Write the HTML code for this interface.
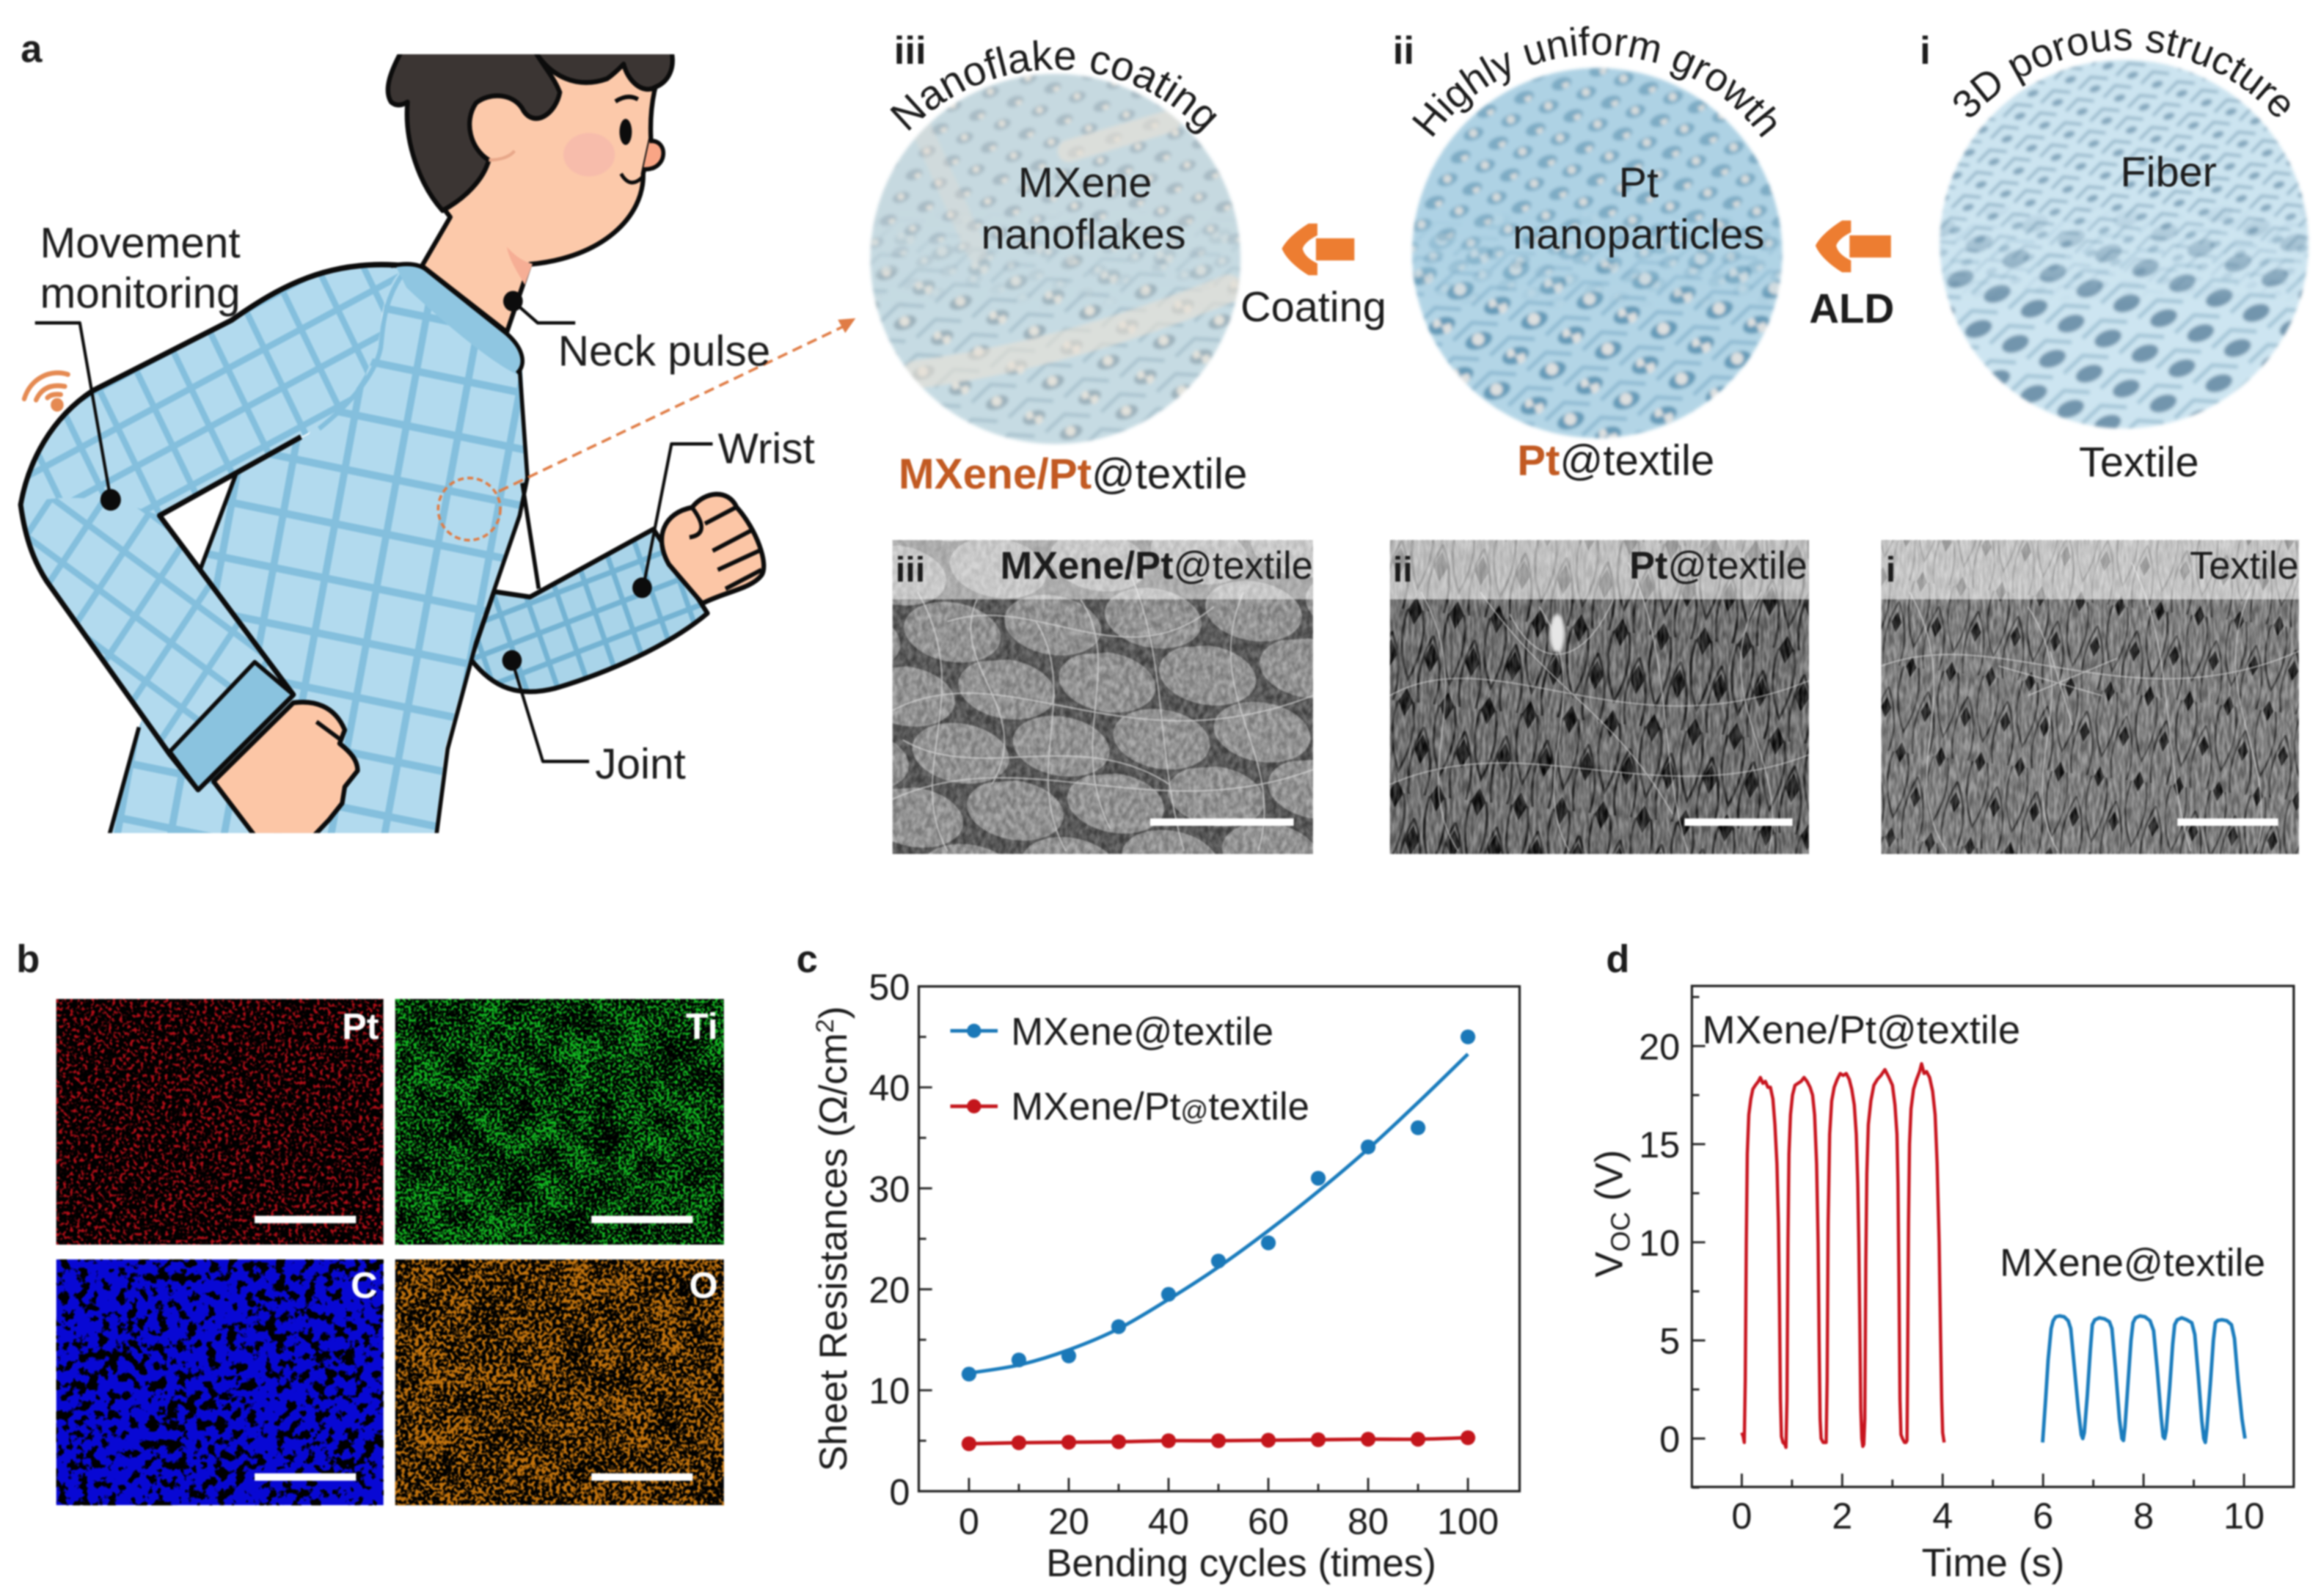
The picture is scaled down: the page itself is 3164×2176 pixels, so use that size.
<!DOCTYPE html>
<html lang="en">
<head>
<meta charset="utf-8">
<title>Textile sensor figure</title>
<style>
html,body{margin:0;padding:0;background:#fff;width:3164px;height:2176px;overflow:hidden}
svg{display:block;filter:blur(1px)}
text{font-family:"Liberation Sans",Arial,sans-serif;fill:#1c1c1c}
.b{font-weight:700}
</style>
</head>
<body>
<svg id="fig" xmlns="http://www.w3.org/2000/svg" width="3164" height="2176" viewBox="0 0 1568 1078.4">
<defs>
  <clipPath id="person-clip"><rect x="0" y="100" width="1568" height="1435"/></clipPath>
  <pattern id="grid-torso" width="102" height="102" patternUnits="userSpaceOnUse" patternTransform="rotate(11)"><rect width="102" height="102" fill="#b2daee"/><path d="M0,7H102M7,0V102" stroke="#84bfdd" stroke-width="14"/></pattern>
  <pattern id="grid-upper" width="80" height="80" patternUnits="userSpaceOnUse" patternTransform="rotate(-27)"><rect width="80" height="80" fill="#b2daee"/><path d="M0,6H80M6,0V80" stroke="#84bfdd" stroke-width="12"/></pattern>
  <pattern id="grid-lower" width="86" height="86" patternUnits="userSpaceOnUse" patternTransform="rotate(35)"><rect width="86" height="86" fill="#b2daee"/><path d="M0,6H86M6,0V86" stroke="#84bfdd" stroke-width="12"/></pattern>
  <pattern id="grid-fore" width="58" height="58" patternUnits="userSpaceOnUse" patternTransform="rotate(-20)"><rect width="58" height="58" fill="#a9d4e9"/><path d="M0,5H58M5,0V58" stroke="#74b3d3" stroke-width="10"/></pattern>

  <pattern id="knit-iii-lo" width="40" height="36" patternUnits="userSpaceOnUse" patternTransform="rotate(-20)"><rect width="40" height="36" fill="#c6dbe3"/><path d="M4,12L20,5L36,12M-16,30L0,23L16,30M24,30L40,23L56,30" fill="none" stroke="#a9c2ce" stroke-width="2.4"/><g fill="#9cb1bb"><ellipse cx="20" cy="18" rx="8" ry="4.5"/><ellipse cx="0" cy="0" rx="8" ry="4.5"/><ellipse cx="40" cy="0" rx="8" ry="4.5"/><ellipse cx="0" cy="36" rx="8" ry="4.5"/><ellipse cx="40" cy="36" rx="8" ry="4.5"/></g><g fill="#e2e2dc"><circle cx="20" cy="17" r="3.4"/><circle cx="2" cy="2" r="3.4"/><circle cx="38" cy="34" r="3"/></g></pattern>
  <pattern id="knit-iii-up" width="27" height="23" patternUnits="userSpaceOnUse" patternTransform="rotate(-20)"><rect width="27" height="23" fill="#c6d9e0"/><g fill="#a8bbc5"><ellipse cx="13.5" cy="11.5" rx="6" ry="3.5"/><ellipse cx="0" cy="0" rx="6" ry="3.5"/><ellipse cx="27" cy="0" rx="6" ry="3.5"/><ellipse cx="0" cy="23" rx="6" ry="3.5"/><ellipse cx="27" cy="23" rx="6" ry="3.5"/></g><g fill="#e0e0da"><circle cx="13.5" cy="11" r="2.3"/><circle cx="2" cy="1" r="2.3"/></g></pattern>
  <pattern id="knit-ii-lo" width="40" height="36" patternUnits="userSpaceOnUse" patternTransform="rotate(-20)"><rect width="40" height="36" fill="#b3d5e6"/><path d="M4,12L20,5L36,12M-16,30L0,23L16,30M24,30L40,23L56,30" fill="none" stroke="#8fbad2" stroke-width="2.6"/><g fill="#659ab7"><ellipse cx="20" cy="18" rx="9.5" ry="5.5"/><ellipse cx="0" cy="0" rx="9.5" ry="5.5"/><ellipse cx="40" cy="0" rx="9.5" ry="5.5"/><ellipse cx="0" cy="36" rx="9.5" ry="5.5"/><ellipse cx="40" cy="36" rx="9.5" ry="5.5"/></g><g fill="#dde0e0"><circle cx="20" cy="17" r="4.2"/><circle cx="2" cy="2" r="4.2"/><circle cx="38" cy="34" r="3.4"/></g></pattern>
  <pattern id="knit-ii-up" width="27" height="23" patternUnits="userSpaceOnUse" patternTransform="rotate(-20)"><rect width="27" height="23" fill="#aed2e4"/><g fill="#7dabc4"><ellipse cx="13.5" cy="11.5" rx="7" ry="4"/><ellipse cx="0" cy="0" rx="7" ry="4"/><ellipse cx="27" cy="0" rx="7" ry="4"/><ellipse cx="0" cy="23" rx="7" ry="4"/><ellipse cx="27" cy="23" rx="7" ry="4"/></g><g fill="#d5dbdc"><circle cx="13.5" cy="11" r="2.8"/><circle cx="2" cy="1" r="2.8"/></g></pattern>
  <pattern id="knit-i-lo" width="40" height="36" patternUnits="userSpaceOnUse" patternTransform="rotate(-20)"><rect width="40" height="36" fill="#cde5f1"/><path d="M4,12L20,5L36,12M-16,30L0,23L16,30M24,30L40,23L56,30" fill="none" stroke="#a3c4d6" stroke-width="2.6"/><g fill="#7295ad"><ellipse cx="20" cy="18" rx="9.5" ry="5.5"/><ellipse cx="0" cy="0" rx="9.5" ry="5.5"/><ellipse cx="40" cy="0" rx="9.5" ry="5.5"/><ellipse cx="0" cy="36" rx="9.5" ry="5.5"/><ellipse cx="40" cy="36" rx="9.5" ry="5.5"/></g></pattern>
  <pattern id="knit-i-up" width="27" height="23" patternUnits="userSpaceOnUse" patternTransform="rotate(-20)"><rect width="27" height="23" fill="#cce4f0"/><path d="M3,8L13.5,3L24,8M-10,19L0,14L10,19M17,19L27,14L37,19" fill="none" stroke="#90b2c6" stroke-width="1.8"/><g fill="#84a7bd"><ellipse cx="13.5" cy="11.5" rx="4" ry="2.2"/><ellipse cx="0" cy="0" rx="4" ry="2.2"/><ellipse cx="27" cy="0" rx="4" ry="2.2"/><ellipse cx="0" cy="23" rx="4" ry="2.2"/><ellipse cx="27" cy="23" rx="4" ry="2.2"/></g></pattern>
  <linearGradient id="fade" x1="0" y1="0" x2="0" y2="1"><stop offset="0.6" stop-color="#fff"/><stop offset="1" stop-color="#000"/></linearGradient>
  <mask id="fade-mask" maskUnits="objectBoundingBox" maskContentUnits="objectBoundingBox" x="0" y="0" width="1" height="1"><rect width="1" height="1" fill="url(#fade)"/></mask>
  <filter id="soft" x="-5%" y="-5%" width="110%" height="110%"><feGaussianBlur stdDeviation="1.1"/></filter>
  <clipPath id="clip-circle-iii"><circle cx="713" cy="175" r="125"/></clipPath>
  <clipPath id="clip-circle-ii"><circle cx="1079" cy="171" r="125"/></clipPath>
  <clipPath id="clip-circle-i"><circle cx="1435" cy="165" r="124.5"/></clipPath>

  <pattern id="sem-iii" width="68" height="82" patternUnits="userSpaceOnUse" patternTransform="rotate(-4)"><rect width="68" height="82" fill="#4e4e4e"/><g fill="#979797"><ellipse cx="34" cy="20" rx="33" ry="20" transform="rotate(14 34 20)"/><ellipse cx="0" cy="61" rx="33" ry="20" transform="rotate(14 0 61)"/><ellipse cx="68" cy="61" rx="33" ry="20" transform="rotate(14 68 61)"/></g></pattern>
  <pattern id="sem-ii" width="28" height="62" patternUnits="userSpaceOnUse" patternTransform="rotate(6)"><rect width="28" height="62" fill="#6e6e6e"/><g fill="none" stroke="#1e1e1e" stroke-width="1.6"><path d="M14,-15Q28,16 14,47Q0,16 14,-15Z"/><path d="M0,16Q14,47 0,78M28,16Q14,47 28,78"/></g><g fill="#060606"><path d="M14,-9L19,0L14,10L9,0Z"/><path d="M14,53L19,62L14,71L9,62Z"/><path d="M0,21L5,31L0,41L-5,31Z"/><path d="M28,21L33,31L28,41L23,31Z"/></g></pattern>
  <pattern id="sem-i" width="27" height="58" patternUnits="userSpaceOnUse" patternTransform="rotate(7)"><rect width="27" height="58" fill="#808080"/><g fill="none" stroke="#343434" stroke-width="1.2"><path d="M13.5,-14Q27,15 13.5,44Q0,15 13.5,-14Z"/><path d="M0,15Q13.5,44 0,73M27,15Q13.5,44 27,73"/></g><g fill="#0c0c0c"><path d="M13.5,-7L17,0L13.5,7L10,0Z"/><path d="M13.5,51L17,58L13.5,65L10,58Z"/><path d="M0,22L3.5,29L0,36L-3.5,29Z"/><path d="M27,22L30.5,29L27,36L23.5,29Z"/></g></pattern>
  <filter id="grain-v" x="0" y="0" width="100%" height="100%" color-interpolation-filters="sRGB"><feTurbulence type="fractalNoise" baseFrequency="0.5 0.11" numOctaves="2" seed="4"/><feColorMatrix values="2.2 0 0 0 -0.6  2.2 0 0 0 -0.6  2.2 0 0 0 -0.6  0 0 0 0 0.24"/></filter>
  <filter id="grain-d" x="0" y="0" width="100%" height="100%" color-interpolation-filters="sRGB"><feTurbulence type="fractalNoise" baseFrequency="0.3 0.2" numOctaves="2" seed="9"/><feColorMatrix values="2 0 0 0 -0.5  2 0 0 0 -0.5  2 0 0 0 -0.5  0 0 0 0 0.2"/></filter>

  <filter id="noise-red" x="0" y="0" width="100%" height="100%" color-interpolation-filters="sRGB"><feTurbulence type="fractalNoise" baseFrequency="0.42" numOctaves="2" seed="3"/><feColorMatrix values="0 0 0 0 0.7  0 0 0 0 0.05  0 0 0 0 0.09  8 0 0 0 -4.3"/></filter>
  <filter id="noise-green" x="0" y="0" width="100%" height="100%" color-interpolation-filters="sRGB">
    <feTurbulence type="fractalNoise" baseFrequency="0.55" numOctaves="2" seed="8" result="hi"/>
    <feColorMatrix in="hi" values="1 0 0 0 0 1 0 0 0 0 1 0 0 0 0 0 0 0 0 1" result="hiO"/>
    <feTurbulence type="fractalNoise" baseFrequency="0.05" numOctaves="2" seed="21" result="lo"/>
    <feColorMatrix in="lo" values="1 0 0 0 0 1 0 0 0 0 1 0 0 0 0 0 0 0 0 1" result="loO"/>
    <feComposite in="hiO" in2="loO" operator="arithmetic" k1="0" k2="1" k3="0.32" k4="-0.16" result="mix"/>
    <feColorMatrix in="mix" values="0 0 0 0 0.07  0 0 0 0 0.72  0 0 0 0 0.13  8 0 0 0 -3.95"/>
  </filter>
  <filter id="noise-blue" x="0" y="0" width="100%" height="100%" color-interpolation-filters="sRGB">
    <feTurbulence type="fractalNoise" baseFrequency="0.15" numOctaves="3" seed="5" result="hi"/>
    <feColorMatrix in="hi" values="1 0 0 0 0 1 0 0 0 0 1 0 0 0 0 0 0 0 0 1" result="hiO"/>
    <feTurbulence type="fractalNoise" baseFrequency="0.03" numOctaves="1" seed="14" result="lo"/>
    <feColorMatrix in="lo" values="1 0 0 0 0 1 0 0 0 0 1 0 0 0 0 0 0 0 0 1" result="loO"/>
    <feComposite in="hiO" in2="loO" operator="arithmetic" k1="0" k2="1" k3="0.25" k4="-0.125" result="mix"/>
    <feColorMatrix in="mix" values="0 0 0 0 0  0 0 0 0 0  0 0 0 0 0  -12 0 0 0 5.75"/>
  </filter>
  <filter id="noise-orange" x="0" y="0" width="100%" height="100%" color-interpolation-filters="sRGB">
    <feTurbulence type="fractalNoise" baseFrequency="0.42" numOctaves="2" seed="12" result="hi"/>
    <feColorMatrix in="hi" values="1 0 0 0 0 1 0 0 0 0 1 0 0 0 0 0 0 0 0 1" result="hiO"/>
    <feTurbulence type="fractalNoise" baseFrequency="0.05" numOctaves="2" seed="17" result="lo"/>
    <feColorMatrix in="lo" values="1 0 0 0 0 1 0 0 0 0 1 0 0 0 0 0 0 0 0 1" result="loO"/>
    <feComposite in="hiO" in2="loO" operator="arithmetic" k1="0" k2="1" k3="0.28" k4="-0.14" result="mix"/>
    <feColorMatrix in="mix" values="0 0 0 0 0.76  0 0 0 0 0.45  0 0 0 0 0.05  7 0 0 0 -3.25"/>
  </filter>
  <path id="arc-iii" d="M575,185A138,138 0 0 1 851,185"/>
  <path id="arc-ii" d="M941,175A138,138 0 0 1 1217,175"/>
  <path id="arc-i" d="M1297,172A138,138 0 0 1 1573,172"/>
</defs>

<rect width="1568" height="1078.4" fill="#fff"/>

<!-- PANEL A -->
<text class="b" x="14" y="42" font-size="26">a</text>
<g transform="scale(0.3476,0.3667)" clip-path="url(#person-clip)" stroke-linejoin="round">
  <path d="M1030,1100L1270,975L1375,1130C1300,1190 1180,1240 1080,1268C1010,1285 960,1270 915,1215L960,1090Z" fill="url(#grid-fore)" stroke="#0c0c0c" stroke-width="9"/>
  <path d="M1300,1040C1270,990 1290,945 1345,935C1370,905 1415,900 1432,935C1470,975 1495,1040 1480,1060C1460,1085 1410,1090 1365,1112Z" fill="#fcc6a6" stroke="#0c0c0c" stroke-width="9"/>
  <path d="M1345,935C1365,960 1375,985 1340,990M1370,965L1430,935M1385,1015L1465,975M1395,1050L1475,1015M1410,1085L1480,1050" fill="none" stroke="#0c0c0c" stroke-width="8"/>
  <path d="M760,490L820,490L985,612L1015,680L1025,880L1010,940L920,1190L865,1380L845,1540L210,1540L270,1340L385,1060L460,870L600,800L740,600Z" fill="url(#grid-torso)"/>
  <path d="M1010,680L1025,880L1010,950L925,1185L870,1380L848,1540M270,1340L212,1540M460,870L385,1060M1015,890L1047,1085" fill="none" stroke="#0c0c0c" stroke-width="8"/>
  <path d="M875,400C800,310 790,220 860,130L1000,95L1300,95C1275,140 1262,190 1265,255L1250,320C1252,400 1170,475 1030,487L985,612L820,490Z" fill="#fcc9aa" stroke="#0c0c0c" stroke-width="9"/>
  <path d="M985,455C1000,470 1015,482 1035,486L1020,525C1005,500 990,480 985,455Z" fill="#f6ae95"/>
  <path d="M780,95C760,130 745,165 760,188C772,198 785,192 792,188C785,260 815,340 860,388C905,365 940,330 950,295C915,275 900,225 925,190C950,170 1000,170 1018,205C1040,235 1080,210 1088,170C1075,140 1055,120 1040,95Z" fill="#3b3533" stroke="#0c0c0c" stroke-width="9"/>
  <path d="M1040,95C1070,140 1120,165 1180,145C1195,135 1205,125 1212,118C1220,150 1250,175 1275,160C1300,150 1312,125 1305,95Z" fill="#3b3533" stroke="#0c0c0c" stroke-width="9"/>
  <path d="M950,295C970,295 990,290 1000,278" fill="none" stroke="#e8a88a" stroke-width="6"/>
  <ellipse cx="1145" cy="285" rx="50" ry="40" fill="#f7bcab" filter="url(#soft)"/>
  <ellipse cx="1216" cy="243" rx="12" ry="24" fill="#0c0c0c"/>
  <path d="M1196,187Q1220,172 1240,183" fill="none" stroke="#0c0c0c" stroke-width="8"/>
  <path d="M1262,260C1300,255 1300,315 1250,312" fill="#f9a585" stroke="#0c0c0c" stroke-width="8"/>
  <path d="M1207,320Q1225,350 1250,325" fill="none" stroke="#0c0c0c" stroke-width="7"/>
  <path d="M770,490C640,480 540,530 450,590L180,720C100,770 55,850 40,930L310,950L585,805C660,770 730,690 740,600C745,550 760,510 790,490Z" fill="url(#grid-upper)"/>
  <path d="M40,930C130,905 230,920 310,950L570,1280L385,1455L330,1390L90,1070C70,1040 50,1000 40,930Z" fill="url(#grid-lower)"/>
  <path d="M790,495C745,550 745,600 740,640C730,690 680,745 620,790" fill="none" stroke="#84bfdd" stroke-width="9"/>
  <path d="M790,490C640,475 540,530 450,590L180,720C100,770 55,850 40,930C50,1000 70,1040 90,1070L330,1390L385,1455L570,1280L310,950L585,805" fill="none" stroke="#0c0c0c" stroke-width="10"/>
  <path d="M770,492C800,482 820,490 830,498L985,612C1015,640 1025,670 1005,690C960,670 880,610 790,530Z" fill="#8fc6e1"/>
  <path d="M760,490C800,482 820,490 830,498L985,615C1015,640 1025,670 1005,688" fill="none" stroke="#0c0c0c" stroke-width="8"/>
  <path d="M330,1385L495,1220L570,1280L385,1455Z" fill="#8ac3df" stroke="#0c0c0c" stroke-width="8"/>
  <path d="M415,1440L570,1295C610,1290 650,1300 670,1345L660,1370C680,1385 695,1400 695,1420L670,1450L665,1480L640,1510L610,1540L495,1540Z" fill="#fcc6a6" stroke="#0c0c0c" stroke-width="9"/>
  <path d="M615,1330L665,1365" fill="none" stroke="#0c0c0c" stroke-width="8"/>
  <g fill="none" stroke="#e58a52" stroke-width="9" stroke-linecap="round">
    <path d="M47,735C60,695 100,680 132,690"/><path d="M70,737Q85,705 126,712"/><path d="M92,733Q100,725 118,727"/>
    <circle cx="111" cy="746" r="8" fill="#e58a52"/>
  </g>
  <g fill="none" stroke="#0c0c0c" stroke-width="6">
    <path d="M68,595H155L215,920"/>
    <path d="M997,555L1045,595H1118"/>
    <path d="M1385,818H1305L1250,1083"/>
    <path d="M995,1217L1055,1403H1145"/>
  </g>
  <g fill="#0c0c0c">
    <ellipse cx="215" cy="921" rx="20" ry="20"/>
    <ellipse cx="997" cy="555" rx="19" ry="19"/>
    <ellipse cx="1248" cy="1083" rx="19" ry="19"/>
    <ellipse cx="995" cy="1217" rx="19" ry="19"/>
  </g>
</g>
<circle cx="317" cy="344" r="21" fill="none" stroke="#e07c45" stroke-width="1.8" stroke-dasharray="4 2.5"/>
<path d="M337,332L571,220" fill="none" stroke="#e07c45" stroke-width="1.8" stroke-dasharray="7 4"/>
<path d="M578,215L566,216L571,225Z" fill="#e07c45"/>
<text font-size="29"><tspan x="27" y="174">Movement</tspan><tspan x="27" y="208">monitoring</tspan></text>
<text x="377" y="247" font-size="29">Neck pulse</text>
<text x="485" y="313" font-size="29">Wrist</text>
<text x="402" y="526" font-size="29">Joint</text>

<!-- Circles -->
<g filter="url(#soft)">
  <circle cx="713" cy="175" r="125" fill="url(#knit-iii-lo)"/>
  <g clip-path="url(#clip-circle-iii)">
    <rect x="580" y="40" width="270" height="170" fill="url(#knit-iii-up)" mask="url(#fade-mask)"/>
    <g fill="none" stroke="#e9e2d6" stroke-linecap="round" opacity="0.6">
      <path d="M619,253Q720,240 830,195" stroke-width="19"/>
      <path d="M722,102L790,82" stroke-width="15"/>
      <path d="M615,70L660,170" stroke-width="14" opacity="0.5"/>
    </g>
  </g>
</g>
<g filter="url(#soft)">
  <circle cx="1079" cy="171" r="125" fill="url(#knit-ii-lo)"/>
  <g clip-path="url(#clip-circle-ii)"><rect x="950" y="40" width="260" height="170" fill="url(#knit-ii-up)" mask="url(#fade-mask)"/></g>
</g>
<g filter="url(#soft)">
  <circle cx="1435" cy="165" r="124.5" fill="url(#knit-i-lo)"/>
  <g clip-path="url(#clip-circle-i)"><rect x="1305" y="35" width="260" height="170" fill="url(#knit-i-up)" mask="url(#fade-mask)"/></g>
</g>
<text class="b" x="604" y="43" font-size="26">iii</text>
<text class="b" x="941" y="43" font-size="26">ii</text>
<text class="b" x="1297" y="43" font-size="26">i</text>
<text font-size="28" text-anchor="middle"><textPath href="#arc-iii" startOffset="50%">Nanoflake coating</textPath></text>
<text font-size="27" text-anchor="middle"><textPath href="#arc-ii" startOffset="50%">Highly uniform growth</textPath></text>
<text font-size="27" text-anchor="middle"><textPath href="#arc-i" startOffset="50%">3D porous structure</textPath></text>
<text font-size="28.6" text-anchor="middle"><tspan x="733" y="133">MXene</tspan><tspan x="732" y="168">nanoflakes</tspan></text>
<text font-size="28.6" text-anchor="middle"><tspan x="1107" y="133">Pt</tspan><tspan x="1107" y="168">nanoparticles</tspan></text>
<text x="1465" y="126" font-size="28.6" text-anchor="middle">Fiber</text>
<g fill="#ed7d31"><path d="M889,161H915V176H889Z"/><path d="M890,151L884,151C876,156 869,162 866,168C869,175 876,181 884,186L890,186L890,178C884,175 881,172 880,168C881,165 884,162 890,159Z"/></g>
<g fill="#ed7d31" transform="translate(360.5,-2)"><path d="M889,161H917V176H889Z"/><path d="M890,151L884,151C876,156 869,162 866,168C869,175 876,181 884,186L890,186L890,178C884,175 881,172 880,168C881,165 884,162 890,159Z"/></g>
<text x="838" y="217" font-size="28.6">Coating</text>
<text class="b" x="1251" y="218" font-size="28" text-anchor="middle">ALD</text>
<text x="607" y="330" font-size="29"><tspan class="b" style="fill:#c25a22">MXene/Pt</tspan><tspan>@textile</tspan></text>
<text x="1025" y="321" font-size="28.8"><tspan class="b" style="fill:#c25a22">Pt</tspan><tspan>@textile</tspan></text>
<text x="1445" y="322" font-size="28.6" text-anchor="middle">Textile</text>

<!-- SEM images -->
<g>
  <rect x="603" y="365" width="284" height="212" fill="url(#sem-iii)"/>
  <rect x="603" y="365" width="284" height="212" filter="url(#grain-d)"/>
  <g fill="none" stroke="#dcdcdc" stroke-width="0.9" opacity="0.7"><path d="M620,400C660,470 610,520 640,575M700,420C730,470 690,520 720,575M760,380C790,440 780,510 800,575M840,400C810,470 870,510 850,575M603,480C680,440 760,520 887,470M603,540C690,500 780,560 887,520"/><path d="M660,405C640,450 700,480 670,530M730,405C760,450 720,500 750,560M640,420C700,400 760,460 820,410M610,500C660,530 730,490 790,530"/></g>
  <rect x="603" y="365" width="284" height="40" fill="#fff" opacity="0.5"/>
  <rect x="777" y="553" width="97" height="5" fill="#fff"/>
</g>
<g>
  <rect x="939" y="365" width="283" height="212" fill="url(#sem-ii)"/>
  <rect x="939" y="365" width="283" height="212" filter="url(#grain-v)"/>
  <g fill="none" stroke="#d8d8d8" stroke-width="0.8" opacity="0.65"><path d="M960,400C1000,470 950,520 985,575M1040,410C1080,470 1030,520 1060,575M1100,380C1130,440 1120,510 1140,575M1190,400C1150,470 1210,510 1195,575M939,470C1010,430 1100,510 1222,460M939,530C1030,490 1120,550 1222,510"/><path d="M1020,415C1040,455 1070,450 1090,405"/><path d="M1000,400C1050,470 1090,480 1130,550"/></g>
  <ellipse cx="1052" cy="428" rx="5" ry="13" fill="#e6e6e6" filter="url(#soft)"/>
  <rect x="934" y="365" width="288" height="40" fill="#fff" opacity="0.55"/>
  <rect x="1138" y="553" width="73" height="5" fill="#fff"/>
</g>
<g>
  <rect x="1271" y="365" width="282" height="212" fill="url(#sem-i)"/>
  <rect x="1271" y="365" width="282" height="212" filter="url(#grain-v)"/>
  <g fill="none" stroke="#dedede" stroke-width="0.8" opacity="0.65"><path d="M1290,400C1330,470 1280,520 1315,575M1370,410C1410,470 1360,520 1390,575M1440,380C1470,440 1460,510 1480,575M1520,400C1490,470 1540,510 1525,575M1271,450C1350,420 1440,490 1553,440"/><path d="M1350,450L1420,470M1370,470L1430,445M1385,440L1400,490"/></g>
  <rect x="1271" y="365" width="282" height="40" fill="#fff" opacity="0.55"/>
  <rect x="1471" y="553" width="68" height="5" fill="#fff"/>
</g>
<text class="b" x="605" y="393" font-size="24">iii</text>
<text x="887" y="391" font-size="26" text-anchor="end"><tspan class="b">MXene/Pt</tspan><tspan>@textile</tspan></text>
<text class="b" x="941" y="393" font-size="24">ii</text>
<text x="1221" y="391" font-size="26" text-anchor="end"><tspan class="b">Pt</tspan><tspan>@textile</tspan></text>
<text class="b" x="1274" y="393" font-size="24">i</text>
<text x="1553" y="391" font-size="26" text-anchor="end">Textile</text>

<!-- PANEL B -->
<text class="b" x="11" y="657" font-size="26">b</text>
<g><rect x="38" y="675" width="221" height="166" fill="#000"/><rect x="38" y="675" width="221" height="166" filter="url(#noise-red)"/></g>
<g><rect x="267" y="675" width="222" height="166" fill="#000"/><rect x="267" y="675" width="222" height="166" filter="url(#noise-green)"/></g>
<g><rect x="38" y="851" width="221" height="166" fill="#0808d4"/><rect x="38" y="851" width="221" height="166" filter="url(#noise-blue)"/></g>
<g><rect x="267" y="851" width="222" height="166" fill="#000"/><rect x="267" y="851" width="222" height="166" filter="url(#noise-orange)"/></g>
<g fill="#fff">
  <rect x="172" y="821.5" width="68.5" height="5"/>
  <rect x="399.5" y="821.5" width="68.5" height="5"/>
  <rect x="172" y="995.5" width="68.5" height="5"/>
  <rect x="399.5" y="995.5" width="68.5" height="5"/>
</g>
<g font-size="25" font-weight="700" text-anchor="end">
  <text x="256" y="702" style="fill:#fff">Pt</text>
  <text x="485" y="702" style="fill:#fff">Ti</text>
  <text x="255" y="877" style="fill:#fff">C</text>
  <text x="485" y="877" style="fill:#fff">O</text>
</g>

<!-- PANEL C -->
<text class="b" x="538" y="657" font-size="26">c</text>
<g id="chart-c"></g>
<text x="838.5" y="1065" font-size="26.2" text-anchor="middle">Bending cycles (times)</text>
<text transform="translate(572,837) rotate(-90)" font-size="26.2" text-anchor="middle">Sheet Resistances (Ω/cm<tspan font-size="17" dy="-9">2</tspan><tspan dy="9">)</tspan></text>
<g>
  <line x1="642" y1="696.5" x2="674" y2="696.5" stroke="#1a78b8" stroke-width="2.4"/>
  <circle cx="658" cy="696.5" r="4.8" fill="#1a78b8"/>
  <text x="683" y="706" font-size="26.1">MXene@textile</text>
  <line x1="642" y1="747.5" x2="674" y2="747.5" stroke="#c4161c" stroke-width="2.4"/>
  <circle cx="658" cy="747.5" r="4.8" fill="#c4161c"/>
  <text x="683" y="756.5" font-size="26.1">MXene/Pt<tspan font-size="18.5">@</tspan>textile</text>
</g>

<!-- PANEL D -->
<text class="b" x="1085" y="657" font-size="26">d</text>
<g id="chart-d"></g>
<text x="1346.5" y="1065" font-size="26.6" text-anchor="middle">Time (s)</text>
<text transform="translate(1096,820) rotate(-90)" font-size="26" text-anchor="middle">V<tspan font-size="18" dy="5">OC</tspan><tspan dy="-5"> (V)</tspan></text>
<text x="1150" y="705" font-size="26.8">MXene/Pt@textile</text>
<text x="1351" y="862" font-size="26.4">MXene@textile</text>

<script>
const NS = 'http://www.w3.org/2000/svg';

/* Chart c data */
const cycles = [0, 10, 20, 30, 40, 50, 60, 70, 80, 90, 100];
const mxenePoints = [11.6, 13, 13.4, 16.3, 19.5, 22.8, 24.6, 31, 34.1, 36, 45];
const mxeneFit = [11.7, 12.5, 14, 16.1, 19, 22.2, 25.8, 29.7, 33.9, 38.5, 43.3];
const mxenePtPoints = [4.7, 4.8, 4.85, 4.9, 5, 5, 5.05, 5.1, 5.15, 5.15, 5.3];
const cXTicks = [0, 20, 40, 60, 80, 100];
const cXMinor = [10, 30, 50, 70, 90];
const cYTicks = [0, 10, 20, 30, 40, 50];
const cYMinor = [5, 15, 25, 35, 45];

/* Chart d data */
const redTime = [0,.03,.05,.07,.09,.11,.14,.18,.22,.27,.33,.37,.42,.47,.52,.57,.62,.66,.70,.73,.75,.77,.79,.82,.86,.88,
  .9,.92,.94,.97,1.01,1.06,1.12,1.18,1.24,1.3,1.36,1.41,1.45,1.49,1.52,1.54,1.56,1.58,1.62,1.66,1.68,
  1.7,1.72,1.75,1.79,1.84,1.9,1.96,2.02,2.08,2.14,2.19,2.24,2.28,2.31,2.33,2.35,2.37,2.39,2.41,2.43,
  2.45,2.47,2.49,2.52,2.57,2.63,2.7,2.77,2.85,2.93,3,3.05,3.09,3.11,3.13,3.15,3.17,3.2,3.24,3.27,3.29,
  3.3,3.32,3.34,3.37,3.42,3.48,3.54,3.58,3.63,3.68,3.74,3.8,3.85,3.89,3.93,3.96,3.98,4,4.03];
const redVoltage = [.3,.1,-.2,3,10,14.5,16.5,17.3,17.8,18,18.2,18.4,18.1,18.2,17.9,17.9,17.3,16,14,11,7,2,.1,-.2,-.3,-.45,
  2,10,14.5,16.5,17.5,18,18.1,18.2,18.4,18.2,17.9,17.5,16.5,14,10,5,1,0,-.2,-.2,-.2,
  3,11,15.5,17.2,17.9,18.3,18.6,18.5,18.6,18.3,17.8,17,15.5,13,10,6,1.5,0,-.4,-.3,
  1,9,13.5,16,17.2,18,18.3,18.5,18.8,18.4,18,17,15.5,13,8,2,.2,0,-.2,-.2,-.1,
  3,11,15,16.8,17.8,18.3,18.7,19.1,18.6,18.7,18.4,17.7,16.5,14,10,5,2,.3,-.2];
const blueTime = [5.99,6.05,6.1,6.16,6.2,6.25,6.33,6.42,6.5,6.55,6.62,6.7,6.76,6.79,6.82,6.88,6.94,6.98,7.03,7.12,7.22,7.32,7.37,7.44,7.52,7.57,7.6,7.63,7.69,7.75,7.79,7.84,7.93,8.03,8.13,8.2,8.27,8.35,8.39,8.42,8.45,8.52,8.58,8.62,8.67,8.76,8.86,8.96,9.02,9.09,9.16,9.2,9.23,9.26,9.33,9.39,9.43,9.48,9.56,9.66,9.75,9.81,9.88,9.96,10.02];
const blueVoltage = [-.2,2,4,5.6,6,6.2,6.25,6.2,6,5.6,3.7,1.5,.2,0,.3,2.2,4.5,5.8,6.05,6.15,6.1,5.95,5.6,3.6,1,0,-.1,.6,2.8,5,5.9,6.15,6.25,6.2,6,5.5,3.6,1.1,.1,0,.4,2.6,4.8,5.8,6.05,6.15,6.05,5.9,5.3,3.2,.9,0,-.2,.5,2.8,5,5.9,6.02,6.05,6,5.8,5.1,3,1,0];
const dXTicks = [0, 2, 4, 6, 8, 10];
const dXMinor = [1, 3, 5, 7, 9];
const dYTicks = [0, 5, 10, 15, 20];
const dYMinor = [-2.5, 2.5, 7.5, 12.5, 17.5, 22.5];

function mk(tag, attrs, parent) {
  const el = document.createElementNS(NS, tag);
  for (const k in attrs) el.setAttribute(k, attrs[k]);
  parent.appendChild(el);
  return el;
}
function linear(d0, d1, r0, r1) {
  return v => r0 + (v - d0) * (r1 - r0) / (d1 - d0);
}
function smoothPath(pts) {
  let d = 'M' + pts[0][0] + ',' + pts[0][1];
  for (let i = 0; i < pts.length - 1; i++) {
    const p0 = pts[Math.max(i - 1, 0)], p1 = pts[i], p2 = pts[i + 1], p3 = pts[Math.min(i + 2, pts.length - 1)];
    d += 'C' + (p1[0] + (p2[0] - p0[0]) / 6) + ',' + (p1[1] + (p2[1] - p0[1]) / 6) + ' ' +
         (p2[0] - (p3[0] - p1[0]) / 6) + ',' + (p2[1] - (p3[1] - p1[1]) / 6) + ' ' + p2[0] + ',' + p2[1];
  }
  return d;
}
function drawAxes(g, box, sx, sy, xMajor, xMinor, yMajor, yMinor, labelDrop, labelGap) {
  const frame = mk('rect', {x: box.l, y: box.t, width: box.r - box.l, height: box.b - box.t, fill: 'none', stroke: '#222', 'stroke-width': 1.6}, g);
  
  
  xMajor.forEach(v => {
    const t = mk('line', {x1: sx(v), x2: sx(v), y1: box.b, y2: box.b - 9, stroke: '#222', 'stroke-width': 1.4}, g);
    
    
    const l = mk('text', {x: sx(v), y: box.b + labelDrop, 'font-size': 25, 'text-anchor': 'middle'}, g);
    
    
    l.textContent = v;
  });
  xMinor.forEach(v => {
    const t = mk('line', {x1: sx(v), x2: sx(v), y1: box.b, y2: box.b - 5, stroke: '#222', 'stroke-width': 1.4}, g);
    
    
  });
  yMajor.forEach(v => {
    const t = mk('line', {x1: box.l, x2: box.l + 9, y1: sy(v), y2: sy(v), stroke: '#222', 'stroke-width': 1.4}, g);
    
    
    const l = mk('text', {x: box.l - labelGap, y: sy(v) + 9, 'font-size': 25, 'text-anchor': 'end'}, g);
    
    
    l.textContent = v;
  });
  yMinor.forEach(v => {
    const t = mk('line', {x1: box.l, x2: box.l + 5, y1: sy(v), y2: sy(v), stroke: '#222', 'stroke-width': 1.4}, g);
    
    
  });
}

/* Chart c */
(function () {
  const g = document.getElementById('chart-c');
  const box = {l: 620.7, r: 1026.6, t: 666.5, b: 1007.6};
  const sx = linear(0, 100, 654.6, 991.7);
  const sy = linear(0, 50, box.b, box.t);
  drawAxes(g, box, sx, sy, cXTicks, cXMinor, cYTicks, cYMinor, 29, 6);
  const fit = mk('path', {d: smoothPath(cycles.map((c, i) => [sx(c), sy(mxeneFit[i])])), fill: 'none', stroke: '#1a7cbd', 'stroke-width': 2.4}, g);
  
  
  const redLine = mk('path', {d: smoothPath(cycles.map((c, i) => [sx(c), sy(mxenePtPoints[i])])), fill: 'none', stroke: '#c4161c', 'stroke-width': 2.4}, g);
  
  
  cycles.forEach((c, i) => {
    const p = mk('circle', {cx: sx(c), cy: sy(mxenePoints[i]), r: 5, fill: '#1a78b8'}, g);
    
    
    const q = mk('circle', {cx: sx(c), cy: sy(mxenePtPoints[i]), r: 5, fill: '#c4161c'}, g);
    
    
  });
})();

/* Chart d */
(function () {
  const g = document.getElementById('chart-d');
  const box = {l: 1143, r: 1549.6, t: 666.2, b: 1004.7};
  const sx = linear(0, 10, 1176.7, 1516);
  const sy = linear(0, 20, 972, 706.8);
  drawAxes(g, box, sx, sy, dXTicks, dXMinor, dYTicks, dYMinor, 28, 8);
  const red = mk('path', {d: 'M' + redTime.map((t, i) => sx(t) + ',' + sy(redVoltage[i])).join('L'), fill: 'none', stroke: '#c8141e', 'stroke-width': 2.2, 'stroke-linejoin': 'round'}, g);
  
  
  const blue = mk('path', {d: 'M' + blueTime.map((t, i) => sx(t) + ',' + sy(blueVoltage[i])).join('L'), fill: 'none', stroke: '#1a7cbd', 'stroke-width': 2.4, 'stroke-linejoin': 'round'}, g);
  
  
})();
</script>
</svg>
</body>
</html>
